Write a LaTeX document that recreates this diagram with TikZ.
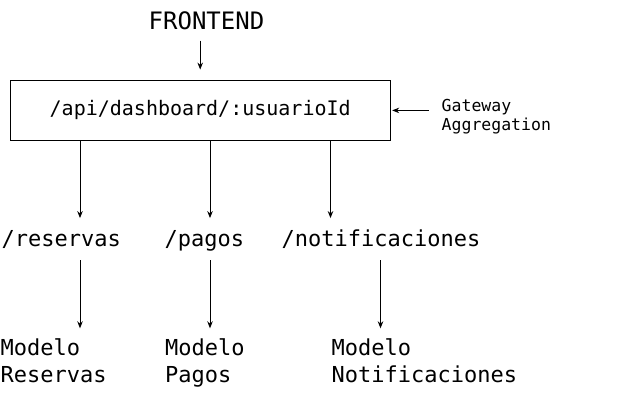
\documentclass[tikz,border=0pt]{standalone}
\usepackage{fontspec}
\setmonofont{DejaVu Sans Mono}
\usetikzlibrary{arrows.meta,positioning}
\begin{document}
\begin{tikzpicture}[x=1pt, y=-1pt, font=\ttfamily]
\tikzstyle{flecha}=[-{Stealth[length=7pt,width=5.5pt]}, line width=0.9pt]
\tikzstyle{caja}=[draw, line width=0.9pt, minimum width=379.7pt, minimum height=59.3pt, inner sep=0pt, font=\ttfamily\fontsize{20}{24}\selectfont]
\tikzstyle{ruta}=[anchor=base west, inner sep=0pt, text height=17pt, text depth=5pt, font=\ttfamily\fontsize{22}{26.7}\selectfont]
\tikzstyle{modelo}=[anchor=north west, inner sep=0pt, align=left, font=\ttfamily\fontsize{22}{26.7}\selectfont]
\useasboundingbox (0,0) rectangle (630,416);

\node[anchor=base, inner sep=0pt, font=\ttfamily\fontsize{24}{28}\selectfont] (front) at (206.5,29.3) {FRONTEND};
\node[caja] (api) at (200.2,110.4) {/api/dashboard/:usuarioId};
\node[modelo, font=\ttfamily\fontsize{16.5}{18.5}\selectfont] (gateway) at (441.5,99.5) {Gateway\\Aggregation};

\draw[flecha] ([yshift=-10.7pt]front.south -| api.north) -- ([yshift=10.7pt]api.north);
\draw[flecha] ([xshift=-13pt]gateway.west |- api.east) -- ([xshift=1.7pt]api.east);

% columnas
\coordinate (xr) at (80,0);
\coordinate (xp) at (210,0);
\coordinate (xn) at (330.5,0);
\coordinate (xm) at (380.5,0);

\node[ruta] (reservas) at (1.5,246.7) {/reservas};
\node[ruta] (pagos) at (164.5,246.7) {/pagos};
\node[ruta] (notif) at (281.5,246.7) {/notificaciones};

\node[modelo] (mres) at (0.5,338.3) {Modelo\\Reservas};
\node[modelo] (mpag) at (165,338.3) {Modelo\\Pagos};
\node[modelo] (mnot) at (331.5,338.3) {Modelo\\Notificaciones};

\draw[flecha] (api.south -| xr) -- ([yshift=11.4pt]reservas.north -| xr);
\draw[flecha] (api.south -| xp) -- ([yshift=11.4pt]pagos.north -| xp);
\draw[flecha] (api.south -| xn) -- ([yshift=11.4pt]notif.north -| xn);

\draw[flecha] ([yshift=-8.3pt]reservas.south -| xr) -- ([yshift=10pt]mres.north -| xr);
\draw[flecha] ([yshift=-8.3pt]pagos.south -| xp) -- ([yshift=10pt]mpag.north -| xp);
\draw[flecha] ([yshift=-8.3pt]notif.south -| xm) -- ([yshift=10pt]mnot.north -| xm);
\end{tikzpicture}
\end{document}
